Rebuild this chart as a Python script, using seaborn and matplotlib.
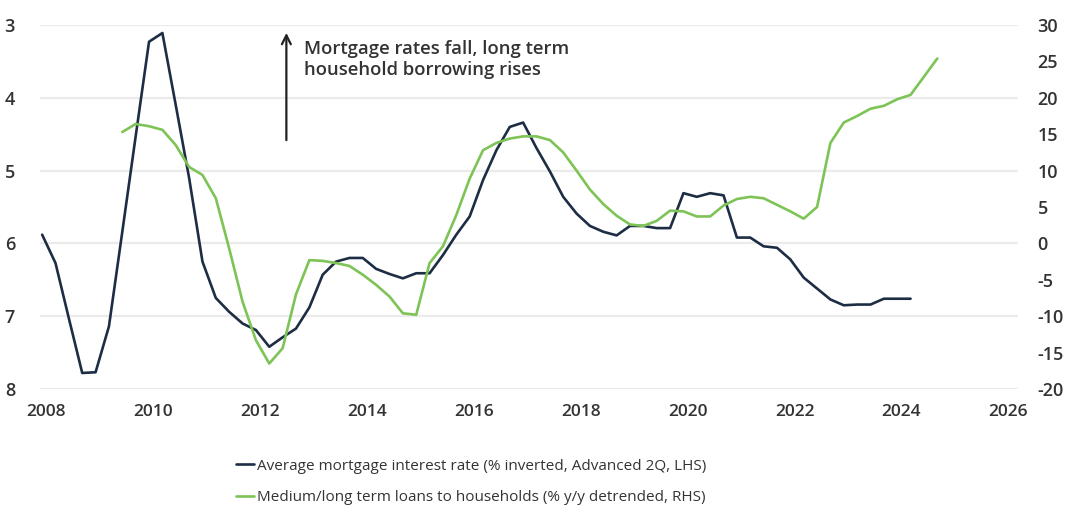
import numpy as np
import pandas as pd
import matplotlib
matplotlib.use("Agg")
import matplotlib.pyplot as plt
import seaborn as sns

# ---- data (quarterly) ----
mortgage_start = 2007.92   # first quarter of the mortgage series (decimal year)
loans_start = 2009.42      # first quarter of the loans series (decimal year)

mortgage_rate = [5.88, 6.27, 7.03, 7.78, 7.77, 7.14, 5.84, 4.53, 3.23, 3.11,
                 4.10, 5.10, 6.25, 6.75, 6.94, 7.10, 7.19, 7.42, 7.29, 7.17,
                 6.88, 6.43, 6.25, 6.20, 6.20, 6.35, 6.42, 6.48, 6.41, 6.41,
                 6.16, 5.88, 5.63, 5.13, 4.72, 4.40, 4.34, 4.69, 5.01, 5.36,
                 5.59, 5.76, 5.84, 5.89, 5.76, 5.76, 5.79, 5.79, 5.31, 5.36,
                 5.31, 5.34, 5.92, 5.92, 6.04, 6.06, 6.22, 6.47, 6.62, 6.77,
                 6.85, 6.84, 6.84, 6.76, 6.76, 6.76]

household_loans = [15.3, 16.4, 16.1, 15.6, 13.5, 10.5, 9.4, 6.2, -0.7, -8.0,
                   -13.3, -16.5, -14.4, -7.0, -2.3, -2.4, -2.7, -3.1, -4.3, -5.7,
                   -7.3, -9.6, -9.8, -2.7, -0.4, 3.9, 8.9, 12.8, 13.8, 14.4,
                   14.7, 14.7, 14.2, 12.5, 10.0, 7.4, 5.4, 3.8, 2.6, 2.4,
                   3.1, 4.5, 4.4, 3.7, 3.7, 5.2, 6.1, 6.4, 6.2, 5.3,
                   4.4, 3.4, 5.0, 13.8, 16.6, 17.5, 18.5, 18.9, 19.8, 20.4,
                   22.9, 25.4]

x_ticks = [2008, 2010, 2012, 2014, 2016, 2018, 2020, 2022, 2024, 2026]
left_ticks = [3, 4, 5, 6, 7, 8]
right_ticks = [30, 25, 20, 15, 10, 5, 0, -5, -10, -15, -20]

label_mortgage = "Average mortgage interest rate (% inverted, Advanced 2Q, LHS)"
label_loans = "Medium/long term loans to households (% y/y detrended, RHS)"
annotation = "Mortgage rates fall, long term\nhousehold borrowing rises"

df_m = pd.DataFrame({"year": mortgage_start + 0.25 * np.arange(len(mortgage_rate)),
                     "value": mortgage_rate})
df_l = pd.DataFrame({"year": loans_start + 0.25 * np.arange(len(household_loans)),
                     "value": household_loans})

# ---- style ----
sns.set_theme(style="white")
plt.rcParams["font.family"] = ["Open Sans", "DejaVu Sans"]

NAVY = "#1d2d44"
GREEN = "#7dc356"
TXT = "#333333"

fig = plt.figure(figsize=(10.67, 5.08), dpi=100)
ax = fig.add_axes([40 / 1067, 1 - 389 / 508, (1018 - 40) / 1067, (389 - 25) / 508])
ax2 = ax.twinx()

sns.lineplot(data=df_m, x="year", y="value", ax=ax, color=NAVY, linewidth=1.9,
             label=label_mortgage, legend=False)
sns.lineplot(data=df_l, x="year", y="value", ax=ax2, color=GREEN, linewidth=1.9,
             label=label_loans, legend=False)

ax.set_xlim(2007.88, 2026.18)
ax.set_ylim(8, 3)
ax2.set_ylim(-20, 30)

ax.set_xticks(x_ticks)
ax.set_yticks(left_ticks)
ax2.set_yticks(right_ticks)
ax.set_xticklabels([str(t) for t in x_ticks], fontweight="semibold")
ax.set_yticklabels([str(t) for t in left_ticks], fontweight="semibold")
ax2.set_yticklabels([str(t) for t in right_ticks], fontweight="semibold")

for a in (ax, ax2):
    for s in a.spines.values():
        s.set_visible(False)
    a.set_xlabel("")
    a.set_ylabel("")

ax.grid(axis="y", color="#ebebeb", linewidth=1.6)
ax.grid(axis="x", visible=False)
ax2.grid(False)
ax.set_axisbelow(True)

ax.tick_params(axis="y", length=0, pad=18, labelsize=13, labelcolor=TXT)
ax.tick_params(axis="x", length=0, pad=11, labelsize=12.5, labelcolor=TXT)
ax2.tick_params(axis="y", length=0, pad=14, labelsize=13, labelcolor=TXT)

# annotation arrow + text
ax.annotate("", xy=(2012.49, 3.07), xytext=(2012.49, 4.62),
            arrowprops=dict(arrowstyle="->", color="#222222", lw=1.6,
                            mutation_scale=16))
ax.text(2012.82, 3.47, annotation, ha="left", va="center", fontsize=13.3,
        fontweight="semibold", color=TXT, linespacing=1.2)

# legend below
h1, l1 = ax.get_legend_handles_labels()
h2, l2 = ax2.get_legend_handles_labels()
fig.legend(h1 + h2, l1 + l2, loc="upper left", bbox_to_anchor=(228 / 1067, 1 - 451 / 508),
           frameon=False, fontsize=11, handlelength=1.2, handletextpad=0.2,
           labelspacing=1.1, labelcolor=TXT, borderpad=0)

fig.savefig("out.png", dpi=100, facecolor="white")
